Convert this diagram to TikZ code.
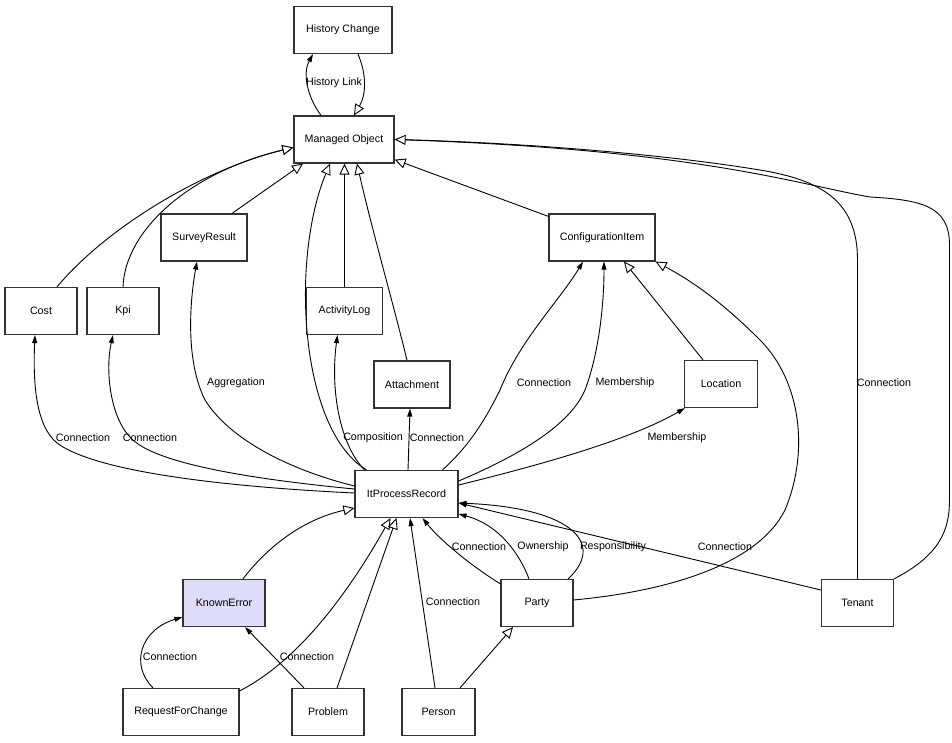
\documentclass[tikz,border=0pt]{standalone}
\usepackage{fontspec}
\setmainfont{Liberation Sans}
\usetikzlibrary{arrows.meta}
\definecolor{kefill}{RGB}{221,221,250}
\begin{document}
\begin{tikzpicture}[x=1pt,y=-1pt,
  box/.style={draw=black!80,line width=1.2pt,inner sep=0pt,minimum height=47pt,font=\fontsize{10.7}{12}\selectfont},
  lbl/.style={font=\fontsize{10.7}{12}\selectfont,inner sep=0pt},
  edge/.style={line width=0.9pt},
  fa/.style={edge,-{Triangle[length=8pt,width=5pt]}},
  ha/.style={edge,-{Triangle[open,length=11pt,width=10pt,fill=white]}}
]
\useasboundingbox[fill=white] (0,0) rectangle (952,743);
% nodes
\node[box,minimum width=98pt] (hc) at (343,30) {History Change};
\node[box,minimum width=100pt] (mo) at (344,139.5) {Managed Object};
\node[box,minimum width=86pt] (sr) at (204,237.5) {SurveyResult};
\node[box,minimum width=106pt] (ci) at (602,237.5) {ConfigurationItem};
\node[box,minimum width=72pt] (cost) at (41,311) {Cost};
\node[box,minimum width=72pt] (kpi) at (123,311) {Kpi};
\node[box,minimum width=76pt] (al) at (344.5,311) {ActivityLog};
\node[box,minimum width=76pt] (att) at (412,384.5) {Attachment};
\node[box,minimum width=73pt] (loc) at (721,384) {Location};
\node[box,minimum width=103pt] (ipr) at (406.5,494) {ItProcessRecord};
\node[box,minimum width=82pt,fill=kefill] (ke) at (224,603) {KnownError};
\node[box,minimum width=72pt] (party) at (537,603) {Party};
\node[box,minimum width=72pt] (tenant) at (857.5,603) {Tenant};
\node[box,minimum width=116pt] (rfc) at (181,712) {RequestForChange};
\node[box,minimum width=72pt] (problem) at (328,712) {Problem};
\node[box,minimum width=73pt] (person) at (438.5,712) {Person};
% History link
\draw[fa] ([xshift=-23pt]mo.north) .. controls (306,95) and (303,72) .. ([xshift=-30pt]hc.south);
\draw[ha] ([xshift=15pt]hc.south) .. controls (367,75) and (366,95) .. ([xshift=10pt]mo.north);
\node[lbl] (lhl) at (334,83) {History Link};
% generalisations to Managed Object
\draw[ha] ([xshift=16pt]cost.north) .. controls (107,227) and (204,169) .. ([yshift=-8pt]mo.west);
\draw[ha] (kpi.north) .. controls (125,230) and (190,172) .. ([yshift=-8pt]mo.west);
\draw[ha] ([xshift=28pt]sr.north) -- ([xshift=-41pt]mo.south);
\draw[ha] (al.north) -- ([xshift=0.5pt]mo.south);
\draw[ha] ([xshift=-40pt]ipr.north) .. controls (300,430) and (290,260) .. ([xshift=-14pt]mo.south);
\draw[ha] ([xshift=-5pt]att.north) .. controls (395,310) and (372,230) .. ([xshift=13pt]mo.south);
\draw[ha] ([yshift=-3pt]ci.north west) -- ([yshift=4pt]mo.south east);
% Tenant to Managed Object
\draw[fa] (tenant.north) -- (857.5,260) .. controls (857.5,200) and (820,180) .. (760,170) .. controls (650,152) and (500,142) .. (mo.east);
\draw[ha] (tenant.north east) .. controls (940,555) and (949.5,530) .. (949.5,500) -- (949.5,245) .. controls (949.5,205) and (920,200) .. (870,197) .. controls (800,185) and (700,150) .. (mo.east);
\node[lbl] (lt1) at (884,383) {Connection};
% ItProcessRecord associations
\draw[fa] ([yshift=1pt]ipr.west) .. controls (250,488) and (100,475) .. (57,443) .. controls (35,425) and (33,380) .. ([xshift=-6pt]cost.south);
\node[lbl] (lc1) at (83,438) {Connection};
\draw[fa] ([yshift=5pt]ipr.west) .. controls (260,480) and (160,465) .. (133,440) .. controls (110,420) and (105,370) .. ([xshift=-10pt]kpi.south);
\node[lbl] (lc2) at (150,438) {Connection};
\draw[fa] ([yshift=8pt]ipr.west) .. controls (290,470) and (230,440) .. (205,400) .. controls (185,360) and (190,300) .. ([xshift=-7pt]sr.south);
\node[lbl] (lag) at (236,383) {Aggregation};
\draw[fa] ([xshift=-42pt]ipr.north) .. controls (340,445) and (330,390) .. ([xshift=-7pt]al.south);
\node[lbl] (lco) at (373,438) {Composition};
\draw[fa] ([xshift=1.5pt]ipr.north) -- ([xshift=-2pt]att.south);
\node[lbl] (lc3) at (437,438) {Connection};
\draw[fa] ([xshift=36pt]ipr.north) .. controls (470,445) and (485,420) .. (500,390) .. controls (520,340) and (560,300) .. ([xshift=-19pt]ci.south);
\node[lbl] (lc4) at (544,383) {Connection};
\draw[fa] ([yshift=13pt]ipr.east) .. controls (520,455) and (570,425) .. (585,390) .. controls (600,350) and (604,300) .. ([xshift=2pt]ci.south);
\node[lbl] (lm1) at (625,383) {Membership};
\draw[ha] ([xshift=-18pt]loc.north) -- ([xshift=22pt]ci.south);
\draw[fa] ([yshift=9pt]ipr.east) .. controls (540,465) and (630,440) .. ([xshift=1pt]loc.south west);
\node[lbl] (lm2) at (677,438) {Membership};
\draw[ha] ([yshift=3pt]party.east) .. controls (680,590) and (760,560) .. (785,510) .. controls (810,450) and (800,380) .. (760,340) .. controls (720,300) and (690,280) .. (ci.south east);
% lower part
\draw[ha] ([xshift=19pt]ke.north) .. controls (265,550) and (300,520) .. ([yshift=-14pt]ipr.west);
\draw[ha] ([yshift=-3pt]rfc.north east) .. controls (300,660) and (350,590) .. ([xshift=-16pt]ipr.south);
\draw[ha] ([xshift=9pt]problem.north) -- ([xshift=-10pt]ipr.south);
\draw[fa] ([xshift=-24pt]problem.north) -- ([xshift=21pt]ke.south);
\node[lbl] (lc5) at (307,657) {Connection};
\draw[fa] ([xshift=-28pt]rfc.north) .. controls (130,665) and (140,630) .. ([yshift=-14pt]ke.west);
\node[lbl] (lc6) at (170,657) {Connection};
\draw[fa] ([xshift=-3.5pt]person.north) -- ([xshift=3.5pt]ipr.south);
\node[lbl] (lc7) at (453,602) {Connection};
\draw[fa] ([yshift=-5pt]party.north west) .. controls (470,565) and (440,540) .. ([xshift=16pt]ipr.south);
\node[lbl] (lc8) at (479,547) {Connection};
\draw[fa] ([xshift=-8pt]party.north) .. controls (520,555) and (500,525) .. ([yshift=-20pt]ipr.east);
\node[lbl] (low) at (543,547) {Ownership};
\draw[fa] ([xshift=31pt]party.north) .. controls (605,545) and (575,508) .. ([yshift=-9pt]ipr.east);
\node[lbl] (lre) at (613,547) {Responsibility};
\draw[fa] ([yshift=13pt]tenant.west) -- ([yshift=-9pt]ipr.east);
\node[lbl] (lc9) at (725,547) {Connection};
\draw[ha] ([xshift=21.5pt]person.north) -- ([xshift=-24pt]party.south);
\end{tikzpicture}
\end{document}
